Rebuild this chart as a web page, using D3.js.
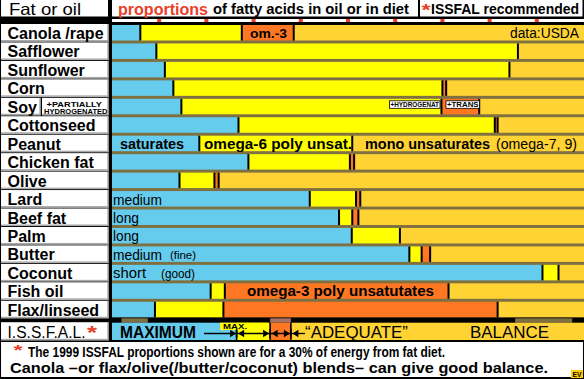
<!DOCTYPE html>
<html><head><meta charset="utf-8">
<script src="https://cdn.jsdelivr.net/npm/d3@7"></script>
<style>body{margin:0;background:#fff}svg{display:block}</style>
</head><body>
<script>
// ---------------- data ----------------
const categories = ["Canola /rape","Safflower","Sunflower","Corn","Soy","Cottonseed","Peanut","Chicken fat","Olive","Lard","Beef fat","Palm","Butter","Coconut","Fish oil","Flax/linseed"];
const saturates = [6, 9.4, 11.2, 13, 14.7, 26.8, 18.5, 28.9, 14.3, 41.9, 48.1, 50.8, 63, 91.2, 20.9, 9.1];
const omega6    = [21.5, 76.6, 73, 57, 55.1, 54.3, 32.4, 21.5, 7.4, 9.8, 2.8, 10.2, 2.6, 3.4, 3, 14.5];
const omega3    = [11, 0, 0, 0.8, 8, 0.6, 0, 0.9, 0.9, 0.9, 1.3, 0, 1.8, 0, 47.4, 58.1];
const monoUns   = [61.5, 14, 15.8, 29.2, 22.2, 18.3, 49.1, 48.7, 77.4, 47.4, 47.8, 39, 32.6, 5.4, 28.7, 18.3];
const issfalLabel = "I.S.S.F.A.L.";
const issfalValues = [26.4, 7.1, 4.4, 62.1];   // sat, omega-6, omega-3, mono
const tickValues = [10, 20, 30, 40, 50, 60, 70, 80, 90];
const bandRanges = [[2, 7.6], [33.5, 37.9], [85.4, 97.5]];

// ---------------- setup ----------------
const W = 584, H = 379;
const FONT = "'Liberation Sans', Arial, Helvetica, sans-serif";
const COL = {sat: "#66CCEE", n6: "#FFFF00", n3: "#FF7722", mono: "#FFD333"};
const BROWN = "#7F7042";
const keys = ["sat", "n6", "n3", "mono"];

const svg = d3.select("body").append("svg")
  .attr("width", W).attr("height", H)
  .style("font-family", FONT);
svg.append("rect").attr("width", W).attr("height", H).attr("fill", "#000");

const x = d3.scaleLinear().domain([0, 100]).range([112, 584]);
const y = d3.scaleBand().domain(categories).range([25, 317.25]).paddingInner(0.16).paddingOuter(0);
const bh = y.bandwidth();

function txt(g, str, x0, x1, yb, size, weight, color) {
  const t = g.append("text").attr("x", x0).attr("y", yb)
    .attr("font-size", size).attr("font-weight", weight).attr("fill", color || "#000")
    .text(str);
  if (x1 != null) t.attr("textLength", x1 - x0).attr("lengthAdjust", "spacingAndGlyphs");
  return t;
}

// ---------------- header ----------------
const hdr = svg.append("g");
hdr.append("rect").attr("x", 1).attr("y", 0).attr("width", 107).attr("height", 16.5).attr("fill", "#fff");
txt(hdr, "Fat or oil", 9, 81, 15.2, 16.5, "normal");
hdr.append("rect").attr("x", 112).attr("y", 0).attr("width", 306).attr("height", 16.5).attr("fill", "#fff");
txt(hdr, "proportions", 118, 208, 14.8, 16, "bold", "#E8402A");
txt(hdr, "of fatty acids in oil or in diet", 213, 409, 14, 14.5, "bold");
hdr.append("rect").attr("x", 420).attr("y", 0).attr("width", 162.5).attr("height", 16.5).attr("fill", "#fff");
txt(hdr, "*", 421.5, 430.5, 16, 17, "bold", "#E8402A");
txt(hdr, "ISSFAL recommended", 431, 579, 14, 14.5, "bold");

// tick strip
svg.append("rect").attr("x", x(0)).attr("y", 19).attr("width", x(100) - x(0)).attr("height", 3).attr("fill", "#fff");
svg.append("g").selectAll("rect").data(tickValues).join("rect")
  .attr("x", d => x(d) - 2).attr("y", 19).attr("width", 4).attr("height", 3).attr("fill", "#E8402A");

// ---------------- bars ----------------
svg.append("rect").attr("x", x(0)).attr("y", y(categories[0])).attr("width", x(100) - x(0))
  .attr("height", y(categories[categories.length - 1]) + bh - y(categories[0])).attr("fill", BROWN);

const rows = categories.map((c, i) => ({cat: c, sat: saturates[i], n6: omega6[i], n3: omega3[i], mono: monoUns[i]}));
const series = d3.stack().keys(keys)(rows);

const barG = svg.append("g");
series.forEach(s => {
  barG.append("g").selectAll("rect").data(s).join("rect")
    .attr("x", d => x(d[0])).attr("y", d => y(d.data.cat))
    .attr("width", d => x(d[1]) - x(d[0])).attr("height", bh)
    .attr("fill", COL[s.key]);
});
series.filter(s => s.key !== "mono").forEach(s => {
  barG.append("g").selectAll("rect").data(s.filter(d => d[1] > d[0] || s.key === "n6")).join("rect")
    .attr("x", d => x(d[1]) - 1).attr("y", d => y(d.data.cat))
    .attr("width", 2).attr("height", bh).attr("fill", "#000");
});

// ---------------- row labels ----------------
const lab = svg.append("g");
function box(g, x0, y0, w, h) {
  g.append("rect").attr("x", x0).attr("y", y0).attr("width", w).attr("height", h).attr("fill", "#fff");
  g.append("rect").attr("x", x0).attr("y", y0 + h - 1.5).attr("width", w).attr("height", 1.5).attr("fill", "#A8A8A8");
  g.append("rect").attr("x", x0 + w - 1.2).attr("y", y0).attr("width", 1.2).attr("height", h).attr("fill", "#A8A8A8");
}
categories.forEach(c => {
  const t = y(c);
  if (c === "Soy") {
    box(lab, 1, t - 1, 39.5, 17.5);
    box(lab, 42, t - 1, 66.5, 17.5);
    txt(lab, "+PARTIALLY", 46.5, 102, t + 7.8, 7.5, "bold");
    txt(lab, "HYDROGENATED", 44, 107.5, t + 15.6, 7.5, "bold");
  } else {
    box(lab, 1, t - 1, 107.5, 17.5);
  }
  lab.append("text").attr("x", 7.5).attr("y", t + 14).attr("font-size", 16).attr("font-weight", "bold").text(c);
});

// ---------------- in-bar annotations ----------------
const ann = svg.append("g");
const ty = c => y(c);
txt(ann, "om.-3", 250, 287, ty("Canola /rape") + 13.3, 13, "bold");
txt(ann, "data:USDA", 510, 579, ty("Canola /rape") + 13.3, 14, "normal");
// soy markers
[["+HYDROGENAT", 389.5, 440], ["+TRANS", 446, 479.5]].forEach(([s, a, b]) => {
  ann.append("rect").attr("x", a).attr("y", ty("Soy") + 2).attr("width", b - a).attr("height", 7.5)
    .attr("fill", "#fff").attr("stroke", "#000").attr("stroke-width", 0.8);
  txt(ann, s, a + 1, b - 1, ty("Soy") + 8.3, 7, "bold");
});
txt(ann, "saturates", 120, 184, ty("Peanut") + 13.5, 14, "bold");
txt(ann, "omega-6 poly unsat.", 204, 352, ty("Peanut") + 13.5, 14, "bold");
txt(ann, "mono unsaturates", 365, 490, ty("Peanut") + 13.5, 14, "bold");
txt(ann, "(omega-7, 9)", 496, 577, ty("Peanut") + 13.5, 14, "normal");
txt(ann, "medium", 113, 162, ty("Lard") + 13.5, 14, "normal");
txt(ann, "long", 113, 139, ty("Beef fat") + 13.5, 14, "normal");
txt(ann, "long", 113, 139, ty("Palm") + 13.5, 14, "normal");
txt(ann, "medium", 113, 162, ty("Butter") + 13.5, 14, "normal");
txt(ann, "(fine)", 170, 196, ty("Butter") + 13, 11.5, "normal");
txt(ann, "short", 113, 146, ty("Coconut") + 13.5, 14, "normal");
txt(ann, "(good)", 161, 195, ty("Coconut") + 13, 12, "normal");
txt(ann, "omega-3  poly unsatutates", 247, 434, ty("Fish oil") + 12.8, 14, "bold");

// ---------------- ISSFAL row ----------------
const iy = 322.7, ih = 17.3;
const bandG = svg.append("g");
bandG.selectAll("rect").data(bandRanges).join("rect")
  .attr("x", d => x(d[0])).attr("y", 318.3).attr("width", d => x(d[1]) - x(d[0])).attr("height", 4.4)
  .attr("fill", (d, i) => i === 1 ? "#A87060" : BROWN);

const issRow = [{cat: issfalLabel, sat: issfalValues[0], n6: issfalValues[1], n3: issfalValues[2], mono: issfalValues[3]}];
const issSeries = d3.stack().keys(keys)(issRow);
const issG = svg.append("g");
issSeries.forEach(s => {
  issG.append("rect").attr("x", x(s[0][0])).attr("y", iy).attr("width", x(s[0][1]) - x(s[0][0]))
    .attr("height", ih).attr("fill", COL[s.key]);
});
issSeries.filter(s => s.key !== "mono").forEach(s => {
  issG.append("rect").attr("x", x(s[0][1]) - 0.8).attr("y", iy).attr("width", 1.6).attr("height", ih).attr("fill", "#000");
});
// MAX tab
const bSat = x(issSeries[0][0][1]), bN6 = x(issSeries[1][0][1]), bN3 = x(issSeries[2][0][1]);
issG.append("rect").attr("x", bSat - 16.5).attr("y", iy).attr("width", bN6 - bSat + 14.5).attr("height", 7.3).attr("fill", COL.n6);
txt(issG, "MAX.", bSat - 13.5, bSat + 10.5, iy + 6.3, 8, "bold");
// arrows
const ay = 333.5;
const ar = issG.append("g").attr("stroke", "#000").attr("stroke-width", 1.3);
ar.append("line").attr("x1", 204).attr("x2", bN3 + 1).attr("y1", ay).attr("y2", ay);
ar.append("line").attr("x1", bN3 + 1).attr("x2", 305).attr("y1", ay).attr("y2", ay);
[bSat, bN6, bN3].forEach(b => ar.append("line").attr("x1", b).attr("x2", b).attr("y1", ay - 4.5).attr("y2", ay + 4.5).attr("stroke-width", 1.6));
function head(xTip, dir) {
  issG.append("path").attr("d", `M${xTip},${ay} L${xTip - dir * 6},${ay - 3.8} L${xTip - dir * 6},${ay + 3.8} Z`).attr("fill", "#000");
}
head(bSat - 0.5, 1); head(bSat + 1.5, -1);
head(bN6 - 1, 1); head(bN6 + 1.5, -1);
head(bN3 - 1, 1); head(bN3 + 1.5, -1);
txt(issG, "MAXIMUM", 120, 196, 337.5, 17, "bold");
txt(issG, "\u201CADEQUATE\u201D", 305, 408, 337.5, 17, "normal");
txt(issG, "BALANCE", 470, 549, 337.5, 17, "normal");

// ISSFAL label
box(lab, 1, iy - 0.5, 107.5, ih + 0.8);
txt(lab, issfalLabel, 7.5, 85.5, 337.5, 16, "normal");
txt(lab, "*", 87, 97, 338.5, 18, "bold", "#E8402A");

// ---------------- footer ----------------
const ft = svg.append("g");
ft.append("rect").attr("x", 1).attr("y", 342).attr("width", 582).attr("height", 35).attr("fill", "#fff");
txt(ft, "*", 13.5, 22.5, 355, 15, "bold", "#E8402A");
txt(ft, "The 1999 ISSFAL proportions shown are for a 30% of energy from fat diet.", 28, 445, 356.5, 14, "bold");
txt(ft, "Canola \u2013or flax/olive(/butter/coconut) blends\u2013 can give good  balance.", 10, 548, 372.5, 15, "bold");
ft.append("rect").attr("x", 571).attr("y", 370).attr("width", 12).attr("height", 8).attr("fill", "#FFCC00");
txt(ft, "EV", 572.5, 581.5, 376.5, 6.5, "bold");
</script>
</body></html>
